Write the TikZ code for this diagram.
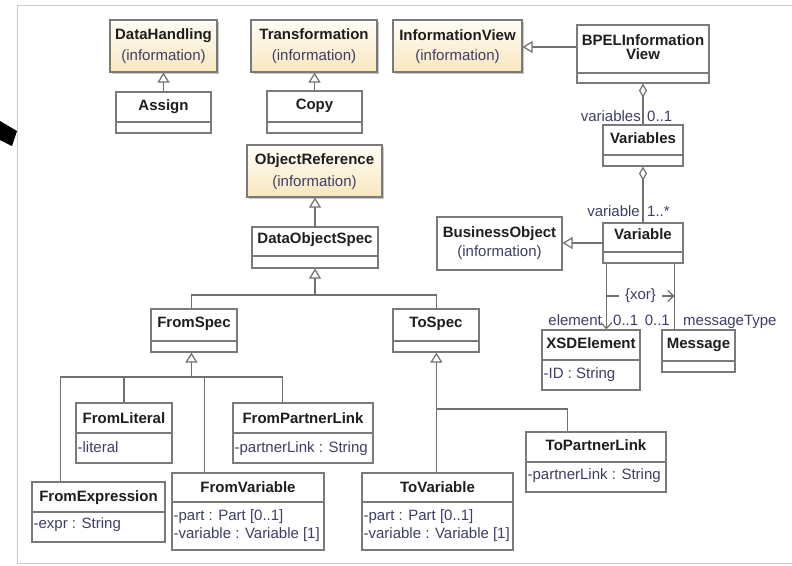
\documentclass[tikz,border=0pt]{standalone}
\usepackage{fontspec}
\setmainfont{Liberation Sans}
\usetikzlibrary{arrows.meta,fit,shadows}

\definecolor{boxgray}{HTML}{7A7A7A}
\definecolor{linegray}{HTML}{707070}
\definecolor{titlecol}{HTML}{1E1E1E}
\definecolor{subcol}{HTML}{3E3E66}
\definecolor{infotop}{HTML}{FFFDF6}
\definecolor{infobot}{HTML}{F8E7BE}
\definecolor{framecol}{HTML}{C9C9D4}

% class box spanning two corner points: [style]{name}{x1}{y1}{x2}{y2}
\newcommand\umlbox[6][cls]{\node[#1, fit={(#3,#4) (#5,#6)}] (#2) {};}
% compartment separator inside a class box at height #2
\newcommand\compline[2]{\draw[divline] (#1.west |- 0,#2) -- (#1.east |- 0,#2);}

\tikzset{
  cls/.style={draw=boxgray, line width=1.2pt, fill=white, inner sep=0pt},
  info/.style={cls, top color=infotop, bottom color=infobot,
    drop shadow={shadow xshift=1.8pt, shadow yshift=-1.8pt, fill=black, opacity=.22}},
  divline/.style={draw=boxgray, line width=1.2pt},
  title/.style={font=\bfseries\fontsize{15}{18}\selectfont, text=titlecol, anchor=base, inner sep=0pt},
  sub/.style={font=\fontsize{15}{18}\selectfont, text=subcol, anchor=base, inner sep=0pt},
  attr/.style={sub, anchor=base west},
  lbl/.style={font=\fontsize{15}{18}\selectfont, text=subcol, inner sep=0pt},
  conn/.style={draw=linegray, line width=1.2pt},
  inh/.style={conn, -{Triangle[fill=white, width=12pt, length=10pt]}},
  agg/.style={conn, {Diamond[fill=white, width=8pt, length=14pt]}-},
  nav/.style={conn, -{Straight Barb[length=6pt, width=11pt]}},
  xorlabel/.style={lbl, fill=white, inner xsep=6pt, inner ysep=1pt},
}

\begin{document}
\begin{tikzpicture}[x=1pt, y=-1pt]
\fill[white] (0,0) rectangle (792,565);
\useasboundingbox (0,0) rectangle (792,565);

% outer frame and pointer
\draw[framecol, line width=1pt] (792,5) -- (17,5) -- (17,563) -- (792,563);
\fill[black] (0,121) -- (17,131) -- (12,146) -- (0,140) -- cycle;

% ---- class boxes ----
\umlbox[info]{datahandling}{110}{20}{217}{72}
\umlbox[info]{transformation}{251}{20}{377}{72}
\umlbox[info]{infoview}{393}{20}{522}{72}
\umlbox{bpelview}{577}{25}{709}{83}           \compline{bpelview}{73}
\umlbox{assign}{116}{92}{211}{133}            \compline{assign}{122}
\umlbox{copy}{267}{91}{362}{133}              \compline{copy}{122}
\umlbox{variables}{603}{125}{683}{166}        \compline{variables}{155}
\umlbox{variable}{603}{223}{683}{263}         \compline{variable}{252}
\umlbox{businessobject}{437}{217}{562}{270}
\umlbox[info]{objectref}{247}{145}{382}{197}
\umlbox{dataobjspec}{252}{227}{378}{268}      \compline{dataobjspec}{256}
\umlbox{xsdelement}{542}{330}{640}{390}       \compline{xsdelement}{360}
\umlbox{message}{662}{330}{735}{372}          \compline{message}{361}
\umlbox{fromspec}{151}{309}{237}{352}         \compline{fromspec}{341}
\umlbox{tospec}{393}{309}{479}{352}           \compline{tospec}{341}
\umlbox{fromliteral}{76}{403}{172}{463}       \compline{fromliteral}{433}
\umlbox{frompartner}{233}{403}{373}{463}      \compline{frompartner}{433}
\umlbox{fromexpr}{32}{482}{165}{542}          \compline{fromexpr}{512}
\umlbox{fromvariable}{172}{473}{324}{550}     \compline{fromvariable}{502}
\umlbox{tovariable}{362}{473}{513}{550}       \compline{tovariable}{502}
\umlbox{topartner}{526}{432}{666}{492}        \compline{topartner}{462}

% ---- class texts ----
\node[title] (datahandling-t) at (datahandling.center |- 0,39.5) {DataHandling};
\node[sub]   (datahandling-s) at (datahandling.center |- 0,60) {(information)};
\node[title] (transformation-t) at (transformation.center |- 0,39.5) {Transformation};
\node[sub]   (transformation-s) at (transformation.center |- 0,60) {(information)};
\node[title] (infoview-t) at (infoview.center |- 0,40) {InformationView};
\node[sub]   (infoview-s) at (infoview.center |- 0,60) {(information)};
\node[title] (bpelview-t1) at (bpelview.center |- 0,45) {BPELInformation};
\node[title] (bpelview-t2) at (bpelview.center |- 0,59) {View};
\node[title] (assign-t) at (assign.center |- 0,110) {Assign};
\node[title] (copy-t) at (copy.center |- 0,109) {Copy};
\node[title] (variables-t) at (variables.center |- 0,143) {Variables};
\node[title] (variable-t) at (variable.center |- 0,239) {Variable};
\node[title] (businessobject-t) at (businessobject.center |- 0,237) {BusinessObject};
\node[sub]   (businessobject-s) at (businessobject.center |- 0,256) {(information)};
\node[title] (objectref-t) at (objectref.center |- 0,164) {ObjectReference};
\node[sub]   (objectref-s) at (objectref.center |- 0,186) {(information)};
\node[title] (dataobjspec-t) at (dataobjspec.center |- 0,243) {DataObjectSpec};
\node[title] (xsdelement-t) at (xsdelement.center |- 0,348) {XSDElement};
\node[attr]  (xsdelement-a) at ([xshift=2pt]xsdelement.west |- 0,378) {-ID : String};
\node[title] (message-t) at (message.center |- 0,348) {Message};
\node[title] (fromspec-t) at (fromspec.center |- 0,327) {FromSpec};
\node[title] (tospec-t) at (tospec.center |- 0,327) {ToSpec};
\node[title] (fromliteral-t) at (fromliteral.center |- 0,423) {FromLiteral};
\node[attr]  (fromliteral-a) at ([xshift=2pt]fromliteral.west |- 0,452) {-literal};
\node[title] (frompartner-t) at (frompartner.center |- 0,423) {FromPartnerLink};
\node[attr]  (frompartner-a) at ([xshift=2pt]frompartner.west |- 0,452) {-partnerLink : String};
\node[title] (fromexpr-t) at (fromexpr.center |- 0,501) {FromExpression};
\node[attr]  (fromexpr-a) at ([xshift=2pt]fromexpr.west |- 0,528) {-expr : String};
\node[title] (fromvariable-t) at (fromvariable.center |- 0,492) {FromVariable};
\node[attr]  (fromvariable-a1) at ([xshift=2pt]fromvariable.west |- 0,520) {-part : Part [0..1]};
\node[attr]  (fromvariable-a2) at ([xshift=2pt]fromvariable.west |- 0,538) {-variable : Variable [1]};
\node[title] (tovariable-t) at (tovariable.center |- 0,492) {ToVariable};
\node[attr]  (tovariable-a1) at ([xshift=2pt]tovariable.west |- 0,520) {-part : Part [0..1]};
\node[attr]  (tovariable-a2) at ([xshift=2pt]tovariable.west |- 0,538) {-variable : Variable [1]};
\node[title] (topartner-t) at (topartner.center |- 0,450) {ToPartnerLink};
\node[attr]  (topartner-a) at ([xshift=2pt]topartner.west |- 0,479) {-partnerLink : String};

% ---- generalizations ----
\draw[inh] (assign.north) -- (datahandling.south);
\draw[inh] (copy.north) -- (copy.north |- transformation.south);
\draw[inh] (bpelview.west |- 0,47) -- (infoview.east |- 0,47);
\draw[inh] (variable.west |- 0,243) -- (businessobject.east |- 0,243);
\draw[inh] (dataobjspec.north) -- (dataobjspec.north |- objectref.south);

\coordinate (dobus) at (dataobjspec.south |- 0,295);
\draw[inh] (dobus) -- (dataobjspec.south);
\draw[conn] (dobus) -| ([xshift=41pt]fromspec.north west);
\draw[conn] (dobus) -| ([xshift=44pt]tospec.north west);

\coordinate (fsstem) at ([xshift=41pt]fromspec.south west);
\coordinate (fsbus) at (fsstem |- 0,377);
\draw[inh] (fsbus) -- (fsstem);
\draw[conn] (fsbus) -| ([xshift=29pt]fromexpr.north west);
\draw[conn] (fsbus) -| (fromliteral.north);
\draw[conn] (fsbus) -| ([xshift=33pt]fromvariable.north west);
\draw[conn] (fsbus) -| ([xshift=50pt]frompartner.north west);

\coordinate (tsstem) at ([xshift=44pt]tospec.south west);
\coordinate (tsbranch) at (tsstem |- 0,409);
\draw[inh] (tsstem |- tovariable.north) -- (tsstem);
\draw[conn] (tsbranch) -| ([xshift=42pt]topartner.north west);

% ---- aggregations ----
\draw[agg] (bpelview.south) -- (variables.north);
\draw[agg] (variables.south) -- (variable.north);
\node[lbl, anchor=base east] (variables-role) at (641,121.5) {variables};
\node[lbl, anchor=base west] (variables-mult) at (647,121.5) {0..1};
\node[lbl, anchor=base east] (variable-role) at (640,216) {variable};
\node[lbl, anchor=base west] (variable-mult) at (647,216) {1..*};

% ---- associations with xor constraint ----
\coordinate (elemfoot) at ([xshift=4pt]variable.south west);
\coordinate (msgfoot) at ([xshift=-9pt]variable.south east);
\draw[nav] (elemfoot) -- (elemfoot |- xsdelement.north);
\draw[conn] (msgfoot) -- (msgfoot |- message.north);
\draw[nav] (elemfoot |- 0,296) -- (msgfoot |- 0,296)
  node[xorlabel, midway] (xor) {\{xor\}};
\node[lbl, anchor=base east] (element-role) at (602,325) {element};
\node[lbl, anchor=base west] (element-mult) at (613,325) {0..1};
\node[lbl, anchor=base east] (message-mult) at (670,325) {0..1};
\node[lbl, anchor=base west] (message-role) at (683,325) {messageType};
\end{tikzpicture}
\end{document}
